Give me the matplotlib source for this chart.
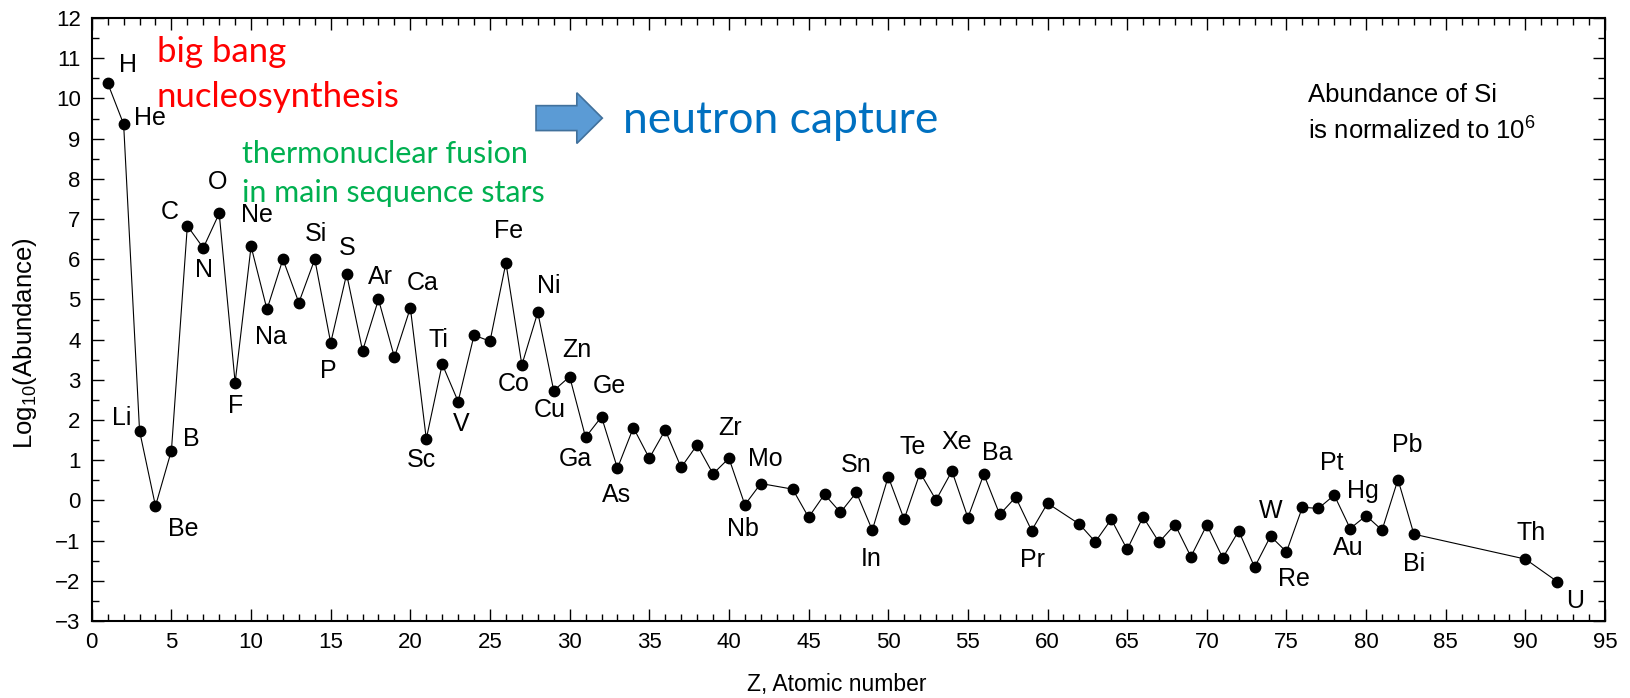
import matplotlib
matplotlib.use('Agg')
import matplotlib.pyplot as plt
from matplotlib.patches import Polygon
from matplotlib.ticker import MultipleLocator

# Solar system abundances, log10, Si = 10^6
z = [1, 2, 3, 4, 5, 6, 7, 8, 9, 10,
     11, 12, 13, 14, 15, 16, 17, 18, 19, 20,
     21, 22, 23, 24, 25, 26, 27, 28, 29, 30,
     31, 32, 33, 34, 35, 36, 37, 38, 39, 40,
     41, 42, 44, 45, 46, 47, 48, 49, 50,
     51, 52, 53, 54, 55, 56, 57, 58, 59, 60,
     62, 63, 64, 65, 66, 67, 68, 69, 70,
     71, 72, 73, 74, 75, 76, 77, 78, 79, 80,
     81, 82, 83, 90, 92]
symbols = ['H', 'He', 'Li', 'Be', 'B', 'C', 'N', 'O', 'F', 'Ne',
           'Na', 'Mg', 'Al', 'Si', 'P', 'S', 'Cl', 'Ar', 'K', 'Ca',
           'Sc', 'Ti', 'V', 'Cr', 'Mn', 'Fe', 'Co', 'Ni', 'Cu', 'Zn',
           'Ga', 'Ge', 'As', 'Se', 'Br', 'Kr', 'Rb', 'Sr', 'Y', 'Zr',
           'Nb', 'Mo', 'Ru', 'Rh', 'Pd', 'Ag', 'Cd', 'In', 'Sn',
           'Sb', 'Te', 'I', 'Xe', 'Cs', 'Ba', 'La', 'Ce', 'Pr', 'Nd',
           'Sm', 'Eu', 'Gd', 'Tb', 'Dy', 'Ho', 'Er', 'Tm', 'Yb',
           'Lu', 'Hf', 'Ta', 'W', 'Re', 'Os', 'Ir', 'Pt', 'Au', 'Hg',
           'Tl', 'Pb', 'Bi', 'Th', 'U']
log_abund = [10.38, 9.36, 1.73, -0.14, 1.24, 6.83, 6.28, 7.14, 2.93, 6.32,
             4.75, 6.00, 4.92, 6.00, 3.92, 5.63, 3.72, 5.00, 3.56, 4.79,
             1.53, 3.39, 2.46, 4.11, 3.96, 5.91, 3.37, 4.68, 2.73, 3.08,
             1.57, 2.08, 0.80, 1.81, 1.05, 1.75, 0.82, 1.38, 0.66, 1.05,
             -0.11, 0.42, 0.28, -0.42, 0.15, -0.30, 0.20, -0.74, 0.59,
             -0.47, 0.69, 0.01, 0.73, -0.43, 0.65, -0.35, 0.08, -0.75, -0.07,
             -0.59, -1.03, -0.47, -1.22, -0.41, -1.04, -0.60, -1.40, -0.61,
             -1.43, -0.76, -1.66, -0.89, -1.28, -0.17, -0.20, 0.13, -0.70, -0.38,
             -0.74, 0.52, -0.84, -1.46, -2.02]

# which elements get a label, and where the label sits (offset in pixels)
label_offsets = {
    'H': (20, 18), 'He': (26, 6), 'Li': (-18, 13), 'Be': (28, -23),
    'B': (20, 12), 'C': (-18, 14), 'N': (1, -22), 'O': (-2, 31),
    'F': (0, -23), 'Ne': (6, 31), 'Na': (4, -28), 'Si': (1, 25),
    'P': (-2, -28), 'S': (1, 26), 'Ar': (2, 22), 'Ca': (12, 25),
    'Sc': (-5, -21), 'Ti': (-4, 24), 'V': (3, -22), 'Fe': (3, 32),
    'Co': (-8, -19), 'Ni': (11, 26), 'Cu': (-4, -19), 'Zn': (7, 27),
    'Ga': (-10, -22), 'Ge': (8, 31), 'As': (-1, -27), 'Zr': (1, 30),
    'Nb': (-2, -24), 'Mo': (5, 25), 'Sn': (-32, 12), 'In': (-1, -29),
    'Te': (-7, 26), 'Xe': (5, 29), 'Ba': (13, 21), 'Pr': (1, -29),
    'W': (0, 25), 'Re': (7, -27), 'Pt': (-3, 32), 'Au': (-2, -19),
    'Hg': (-3, 25), 'Pb': (9, 35), 'Bi': (0, -30), 'Th': (6, 26),
    'U': (18, -19),
}

plt.rcParams['font.family'] = ['Liberation Sans', 'DejaVu Sans']
plt.rcParams['mathtext.default'] = 'regular'

fig = plt.figure(figsize=(16.3, 6.98), dpi=100)
ax = fig.add_axes([0.0563, 0.1103, 0.9284, 0.8639])

ax.plot(z, log_abund, color='black', lw=0.8, marker='o', ms=7.5,
        mfc='black', mec='black')

for sym, zz, v in zip(symbols, z, log_abund):
    if sym in label_offsets:
        ax.annotate(sym, (zz, v), xytext=label_offsets[sym],
                    textcoords='offset pixels', ha='center', va='center',
                    fontsize=18)

ax.set_xlim(0, 95)
ax.set_ylim(-3, 12)
ax.xaxis.set_major_locator(MultipleLocator(5))
ax.xaxis.set_minor_locator(MultipleLocator(1))
ax.yaxis.set_major_locator(MultipleLocator(1))
ax.yaxis.set_minor_locator(MultipleLocator(0.5))
ax.tick_params(which='both', direction='in', top=True, right=True,
               labelsize=16, width=1.0)
ax.tick_params(which='major', length=8.5, pad=8)
ax.tick_params(which='minor', length=5)
for s in ax.spines.values():
    s.set_linewidth(1.5)

ax.set_xlabel('Z, Atomic number', fontsize=16.5)
ax.set_ylabel('Log$_{10}$(Abundance)', fontsize=18.5)
ax.xaxis.set_label_coords(0.4924, -0.086)
ax.yaxis.set_label_coords(-0.044, 0.461)
ax.yaxis.label.set_va('center')

# annotations
ax.text(4.08, 10.91, 'big bang', color='#ff0000', fontsize=25,
        family='Lato', va='baseline')
ax.text(4.08, 9.79, 'nucleosynthesis', color='#ff0000', fontsize=25,
        family='Lato', va='baseline')
ax.text(9.42, 8.39, 'thermonuclear fusion', color='#00b050', fontsize=22,
        family='Lato', va='baseline')
ax.text(9.42, 7.42, 'in main sequence stars', color='#00b050', fontsize=22,
        family='Lato', va='baseline')
ax.text(33.37, 9.13, 'neutron capture', color='#0070c0', fontsize=32,
        family='Lato', va='baseline')

arrow = Polygon([(27.89, 9.20), (30.45, 9.20), (30.45, 8.88), (32.05, 9.51),
                 (30.45, 10.14), (30.45, 9.82), (27.89, 9.82)],
                closed=True, fc='#5b9bd5', ec='#41719c', lw=1.2)
ax.add_patch(arrow)

ax.text(76.36, 9.92, 'Abundance of Si', fontsize=18.5, va='baseline')
ax.text(76.36, 8.97, 'is normalized to 10$^6$', fontsize=18.5, va='baseline')

fig.savefig('out.png', dpi=100)
